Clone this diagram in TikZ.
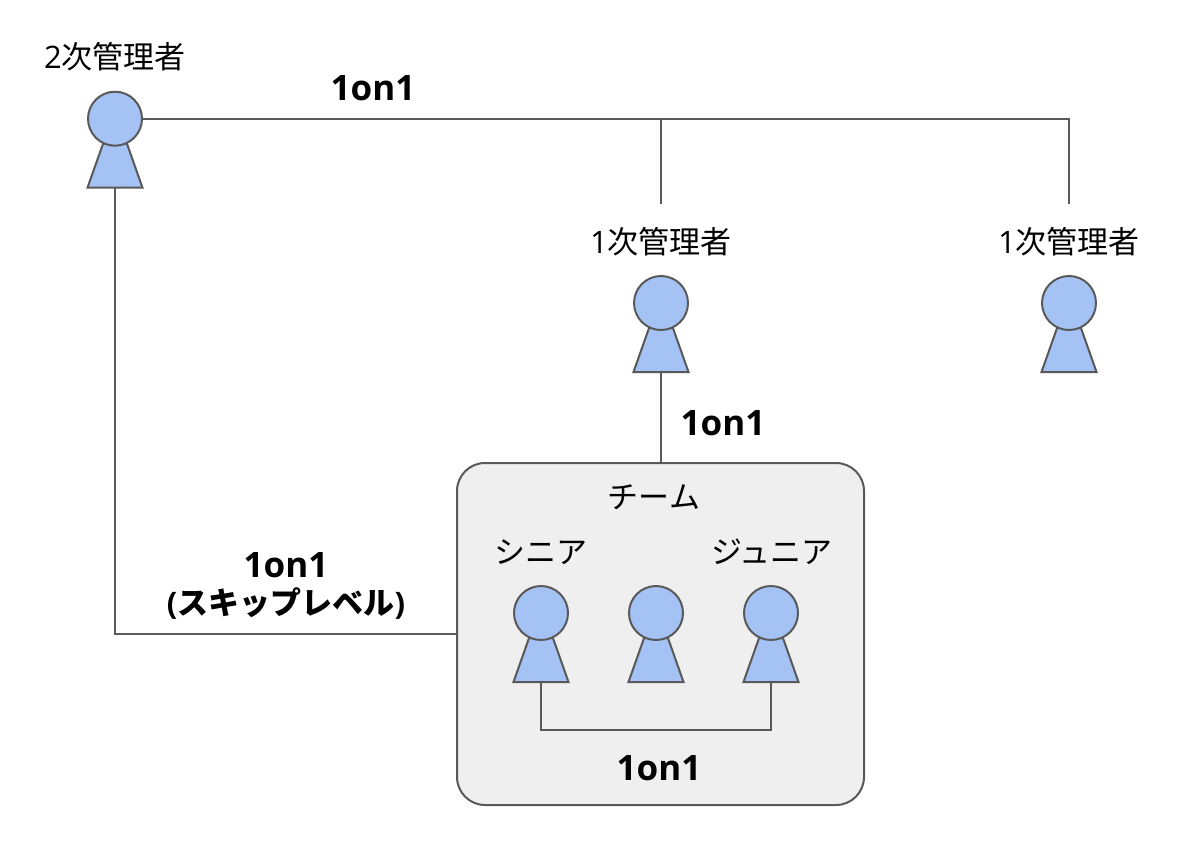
\documentclass[tikz,border=0pt]{standalone}
\usepackage{fontspec}
\setmainfont{Open Sans}
\newfontfamily\cjk{Noto Sans CJK JP}
\usepackage{xcolor}
\usetikzlibrary{shapes.geometric}
\usetikzlibrary{calc}
\definecolor{personBlue}{HTML}{A4C2F4}
\definecolor{teamGray}{HTML}{EFEFEF}
\definecolor{lineGray}{HTML}{595959}
\tikzset{
	personHead/.style={circle, draw=lineGray, fill=personBlue, line width=2pt, minimum size=54pt, inner sep=0pt, outer sep=0pt},
	personBody/.style={trapezium, trapezium left angle=57, trapezium right angle=57, trapezium stretches=true, draw=lineGray, fill=personBlue, line width=2pt, minimum width=55pt, minimum height=44pt, inner sep=1pt, outer sep=0pt},
	roleText/.style={font=\fontsize{31}{34}\selectfont, inner sep=0pt},
	talkText/.style={font=\fontsize{35}{38}\selectfont\bfseries, inner sep=0pt},
	skipText/.style={font=\fontsize{31}{34}\selectfont\bfseries, inner sep=0pt},
	teamBox/.style={draw=lineGray, fill=teamGray, rounded corners=28pt, line width=2pt, minimum width=407pt, minimum height=342pt, inner sep=0pt, outer sep=0pt},
	conn/.style={draw=lineGray, line width=2pt}
}

\begin{document}
\begin{tikzpicture}[x=1pt, y=-1pt]
	\useasboundingbox (0,0) rectangle (1182,856);
	\node[teamBox] (team) at (660.5,634) {};
	% everybody: body first, head on top
	\foreach \x/\y/\personName in {115/118.7/admin, 661/303/leadA, 1069/303/leadB, 541/613/senior, 656/613/member, 771/613/junior}
	{
		\node[personBody] (\personName Body) at (\x,\y+47) {};
		\node[personHead] (\personName) at (\x,\y) {};
	}
	% role names
	\node[roleText] (adminLabel) at (115,57) {2{\cjk 次管理者}};
	\node[roleText] (leadALabel) at (661,242) {1{\cjk 次管理者}};
	\node[roleText] (leadBLabel) at (1069,242) {1{\cjk 次管理者}};
	\node[roleText] (teamLabel) at (654,497) {\cjk チーム};
	\node[roleText] (seniorLabel) at (541,552) {\cjk シニア};
	\node[roleText] (juniorLabel) at (772,552) {\cjk ジュニア};
	% talk labels
	\node[talkText] (talkTop) at (373,88) {1on1};
	\node[talkText] (talkLead) at (723,423) {1on1};
	\node[talkText] (talkSkip) at (286,565) {1on1};
	\node[skipText] (talkSkipNote) at (286,604) {({\cjk スキップレベル})};
	\node[talkText] (talkPeer) at (659,768) {1on1};
	% free ends of the top branches
	\coordinate (leadAEnd) at (661,204);
	\coordinate (leadBEnd) at (1069,204);
	\draw[conn] (admin.east) -| (leadBEnd);
	\draw[conn] (admin.east -| leadAEnd) -- (leadAEnd);
	\draw[conn] (leadABody.south) -- (leadABody.south |- team.north);
	\draw[conn] (adminBody.south) |- (team.west);
	\draw[conn] (seniorBody.south) -- ++(0,48) -| (juniorBody.south);
\end{tikzpicture}
\end{document}
